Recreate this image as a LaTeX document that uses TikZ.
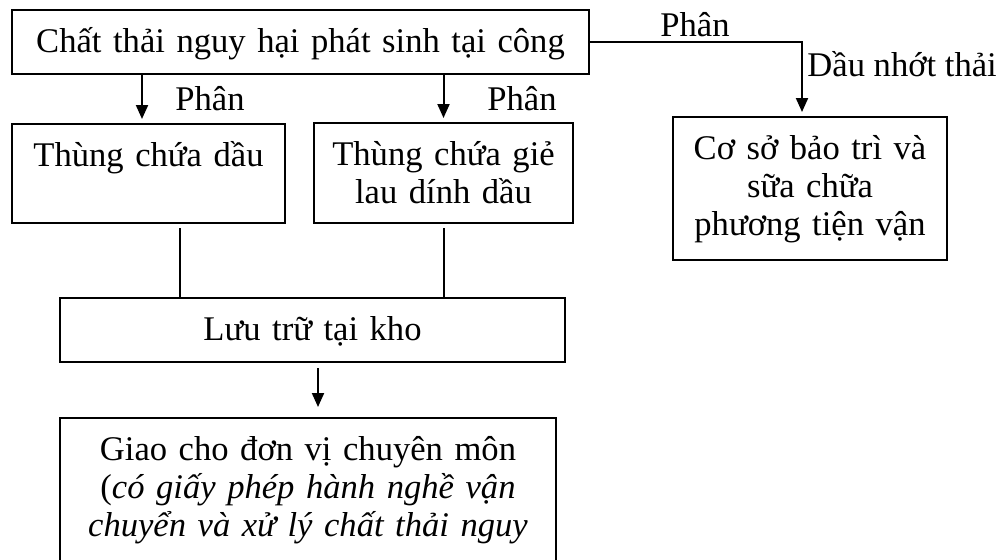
\documentclass[tikz,border=0pt]{standalone}
\usepackage{fontspec}
\setmainfont{Liberation Serif}
\usetikzlibrary{ arrows.meta,  % For the filled arrow tips
                 positioning,  % For easy node-relative placements
               }
\tikzstyle{box} = [rectangle, draw=black, line width=1pt, inner sep=0pt, align=center, text height=21pt]
\tikzstyle{arr} = [-{Triangle[width=6pt,length=7pt]}, line width=1pt, shorten >=2pt]
\tikzstyle{link} = [line width=1pt, shorten <=2pt]
\tikzstyle{tag} = [inner sep=0pt, anchor=base west]

\begin{document}
\begin{tikzpicture}[x=0.5pt, y=-0.5pt, font=\fontsize{17.3}{19}\selectfont]
  \useasboundingbox (0, 0) rectangle (1004, 559);

  \node (src) [box, text width=288.5pt, text depth=11pt] at (300.5, 42) {Chất thải nguy hại phát sinh tại công};
  \node (tank1) [box, text width=136.5pt, text depth=28.5pt] at (148.5, 173.5) {Thùng chứa dầu};
  \node (tank2) [box, text width=129.5pt, text depth=29pt] at (443.5, 173) {Thùng chứa giẻ\\lau dính dầu};
  \node (garage) [box, text width=137pt, text depth=50.5pt] at (810, 188.5) {Cơ sở bảo trì và\\sữa chữa\\phương tiện vận};
  \node (store) [box, text width=252.5pt, text depth=11pt] at (312.5, 330) {Lưu trữ tại kho};
  \node (agent) [box, text width=248pt, text depth=57.5pt] at (308, 496.5) {Giao cho đơn vị chuyên môn\\(\textit{có giấy phép hành nghề vận}\\\textit{chuyển và xử lý chất thải nguy}};

  % arrows out of the source box
  \coordinate (t1in) at ([xshift=-3.25pt]tank1.north);
  \coordinate (gin) at ([xshift=-4pt]garage.north);
  \draw [arr] (t1in |- src.south) -- (t1in);
  \draw [arr] (tank2.north |- src.south) -- (tank2.north);
  \draw [arr] (src.east) -| (gin);
  \node (p1) [tag] at (175, 110) {Phân};
  \node (p2) [tag] at (487, 110) {Phân};
  \node (p3) [tag] at (660, 36) {Phân};
  \node (oil) [tag] at (807, 76) {Dầu nhớt thải};

  % tanks into the store, store to the agent
  \coordinate (t1out) at ([xshift=15.75pt]tank1.south);
  \coordinate (sout) at ([xshift=2.75pt]store.south);
  \draw [link] (t1out) -- (t1out |- store.north);
  \draw [link] (tank2.south) -- (tank2.south |- store.north);
  \draw [arr, shorten <=2.5pt, shorten >=5pt] (sout) -- (sout |- agent.north);
\end{tikzpicture}
\end{document}
